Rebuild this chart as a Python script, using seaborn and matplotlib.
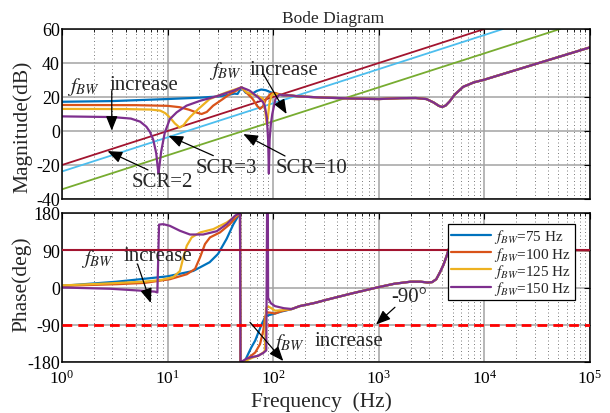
import matplotlib
matplotlib.use("Agg")
import matplotlib.pyplot as plt
from matplotlib.lines import Line2D
from matplotlib.ticker import LogLocator, NullFormatter, FixedLocator
import pandas as pd
import seaborn as sns

# ---------------- data ----------------
bandwidths = ["75 Hz", "100 Hz", "125 Hz", "150 Hz"]
bw_colors = ["#0072BD", "#D95319", "#EDB120", "#7E2F8E"]

# magnitude (dB) of each loop, low/mid-frequency part
mag75_f = [1, 3, 10, 20, 30, 38, 43, 46, 50, 55, 62, 70, 77, 85, 100, 120]
mag75_db = [17.2, 17.6, 18.8, 19.6, 20.3, 21.3, 22.0, 21.8, 25.7, 22.5, 21.6, 23.6, 24.4, 24.0, 22.2, 21.0]

mag100_f = [1, 5, 10, 13, 16, 19, 21, 23.5, 27, 33, 39, 45, 50, 56, 64, 70, 75, 80, 86, 95, 104, 120]
mag100_db = [15.3, 15.2, 14.8, 14.0, 12.5, 10.8, 10.0, 11.2, 14.9, 18.6, 21.8, 23.8, 25.7, 22.5, 18.8, 15.0,
             13.0, 14.5, 19.0, 22.0, 22.4, 21.2]

mag125_f = [1, 4, 7, 8.5, 9.5, 10.5, 11.7, 13.0, 14.2, 15.2, 16.5, 19.6, 25, 36, 50, 56, 64, 72, 80, 83,
            86, 87, 89, 92, 96, 100, 120]
mag125_db = [13.0, 12.9, 12.6, 12.0, 10.5, 8.0, 4.5, 2.0, 3.5, 6.0, 8.5, 13.0, 18.8, 22.7, 25.7, 22.8, 21.5,
             20.5, 19.0, 15.0, 6.0, 4.0, 8.0, 16.0, 20.5, 21.8, 21.2]

mag150_f = [1, 3, 4.5, 5.5, 6.3, 6.8, 7.3, 7.8, 8.05, 8.2, 8.35, 8.7, 9.4, 10.5, 12.2, 15.1, 20.4, 29, 42,
            50, 56, 60, 72, 80, 83, 87, 89.5, 91, 92.5, 95, 98, 105, 115, 125]
mag150_db = [8.6, 8.2, 7.3, 5.5, 2.5, -0.5, -5, -13, -21, -25, -21, -12, -1, 7, 11, 14.9, 17.8, 20.4, 23.7,
             25.7, 24.5, 23.7, 19.8, 17.0, 15.0, 8.0, -5, -25, -5, 4, 10, 18.8, 21.5, 21.0]

# shared high-frequency magnitude
tail_mag_f = [140, 178, 316, 562, 1000, 1600, 2240, 2820, 3300, 3700, 3980, 4300, 4700, 5250, 6300, 7940,
              10000, 100000]
tail_mag_db = [21.0, 20.3, 19.6, 19.1, 18.8, 19.3, 19.4, 18.8, 16.8, 14.8, 14.1, 15.0, 17.5, 21.5, 26.0,
               28.6, 30.2, 49.2]

# grid impedance asymptotes
scr_names = ["SCR=2", "SCR=3", "SCR=10"]
scr_colors = ["#A2142F", "#4DBEEE", "#77AC30"]
scr2_f, scr2_db = [1, 10000], [-20.0, 60.0]
scr3_f, scr3_db = [1, 15000], [-23.8, 60.0]
scr10_f, scr10_db = [1, 52000], [-34.3, 60.0]

# phase (deg), low/mid-frequency part
ph75_f = [1, 3.3, 6, 10, 17.5, 25, 30, 36.3, 42, 48.5, 49, 54, 62, 67.6, 72, 78, 83, 87, 97, 120]
ph75_deg = [4, 14, 21, 27, 40, 61, 81, 118, 153, 180, -180, -177, -145, -128, -110, -88, -74, -68, -65, -58]

ph100_f = [1, 3.3, 6, 10.5, 15.2, 18.2, 20.3, 22.6, 25.2, 31.3, 38.9, 48.5, 49, 54, 61, 67.6, 75, 80.6,
           83.6, 87, 95, 104, 120]
ph100_deg = [4, 8, 11, 20, 32, 45, 73, 105, 121, 133, 153, 180, -180, -177, -166, -157, -137, -104, -72,
             -60, -61, -63, -57]

ph125_f = [1, 2.85, 5.9, 8.6, 11.3, 13.1, 14.1, 15.2, 16.9, 20.3, 27.1, 36.3, 48.5, 49, 54, 63, 72, 80.6,
           83.5, 85.5, 90, 96, 104, 120]
ph125_deg = [5, 10, 14, 18, 25, 40, 73, 101, 121, 133, 141, 157, 180, -180, -178, -170, -165, -157, -152,
             -50, -46, -50, -56, -55]

ph150_f = [1, 2.85, 5.9, 7.6, 8.0, 8.3, 9.1, 10.5, 13.1, 16.3, 21.7, 29.2, 36.3, 43.5, 48.5, 49, 51, 56,
           63, 72, 80.6, 86, 87.5, 89, 89.5, 95, 104, 126]
ph150_deg = [0, -3, -8, -10, -12, 152, 153, 149, 137, 128, 128, 136, 153, 173.5, 180, -180, -178, -172,
             -168, -165, -158, -152, 180, 178, -25, -38, -45, -50]

# shared high-frequency phase
tail_ph_f = [150, 178, 250, 316, 562, 1000, 1400, 2000, 2500, 2900, 3200, 3500, 3800, 4100, 4400, 4600,
             5200, 6300, 8000, 10000, 20000, 100000]
tail_ph_deg = [-52, -45, -37, -30, -14, 1, 9, 14, 14, 12, 13, 20, 37, 55, 77, 93, 108, 110, 104, 98, 92, 90]

phase_refs = [90, -90]

# ---------------- tables ----------------
def frame(f, v, name):
    return pd.DataFrame({"freq": f, "value": v, "series": name})

mag_df = pd.concat([
    frame(mag75_f + tail_mag_f, mag75_db + tail_mag_db, bandwidths[0]),
    frame(mag100_f + tail_mag_f, mag100_db + tail_mag_db, bandwidths[1]),
    frame(mag125_f + tail_mag_f, mag125_db + tail_mag_db, bandwidths[2]),
    frame(mag150_f + tail_mag_f, mag150_db + tail_mag_db, bandwidths[3]),
], ignore_index=True)

ph_df = pd.concat([
    frame(ph75_f + tail_ph_f, ph75_deg + tail_ph_deg, bandwidths[0]),
    frame(ph100_f + tail_ph_f, ph100_deg + tail_ph_deg, bandwidths[1]),
    frame(ph125_f + tail_ph_f, ph125_deg + tail_ph_deg, bandwidths[2]),
    frame(ph150_f + tail_ph_f, ph150_deg + tail_ph_deg, bandwidths[3]),
], ignore_index=True)

scr_df = pd.concat([
    frame(scr2_f, scr2_db, scr_names[0]),
    frame(scr3_f, scr3_db, scr_names[1]),
    frame(scr10_f, scr10_db, scr_names[2]),
], ignore_index=True)

# ---------------- style ----------------
sns.set_style("white")
plt.rcParams["font.family"] = ["Liberation Serif", "DejaVu Serif"]
plt.rcParams["mathtext.fontset"] = "stix"
plt.rcParams["axes.unicode_minus"] = False

fig = plt.figure(figsize=(6.1, 4.14), dpi=100)
W, H = 610.0, 414.0
ax1 = fig.add_axes([62 / W, 1 - 200 / H, 528 / W, 170 / H])
ax2 = fig.add_axes([62 / W, 1 - 363 / H, 528 / W, 149 / H])

LW = 1.6
sns.lineplot(data=scr_df, x="freq", y="value", hue="series", hue_order=scr_names,
             palette=scr_colors, sort=False, estimator=None, legend=False, lw=1.3, ax=ax1)
sns.lineplot(data=mag_df, x="freq", y="value", hue="series", hue_order=bandwidths,
             palette=bw_colors, sort=False, estimator=None, legend=False, lw=LW, ax=ax1)
sns.lineplot(data=ph_df, x="freq", y="value", hue="series", hue_order=bandwidths,
             palette=bw_colors, sort=False, estimator=None, legend=False, lw=LW, ax=ax2)

ax2.axhline(phase_refs[0], color="#A2142F", lw=1.5, zorder=3)
ax2.axhline(phase_refs[1], color="#FF0000", lw=2.0, ls=(0, (3.5, 2.2)), zorder=3)

for ax in (ax1, ax2):
    ax.set_xscale("log")
    ax.set_xlim(1, 1e5)
    ax.xaxis.set_major_locator(LogLocator(base=10, numticks=10))
    ax.xaxis.set_minor_locator(LogLocator(base=10, subs=range(2, 10), numticks=100))
    ax.xaxis.set_minor_formatter(NullFormatter())
    ax.grid(True, which="major", color="#a3a3a3", lw=1.1, ls="-")
    ax.grid(True, which="minor", axis="x", color="#7a7a7a", lw=0.7, ls=(0, (1, 2.6)))
    ax.tick_params(which="both", direction="in", top=True, right=True, colors="k")
    ax.tick_params(which="major", length=4, width=0.8)
    ax.tick_params(which="minor", length=2.2, width=0.6)
    ax.tick_params(axis="y", labelsize=13, pad=1.5)
    ax.tick_params(axis="x", labelsize=12.5, pad=5)
    for s in ax.spines.values():
        s.set_color("k")
        s.set_linewidth(1.1)
    ax.set_xlabel("")
    ax.set_ylabel("")

ax1.set_ylim(-40, 60)
ax1.yaxis.set_major_locator(FixedLocator([-40, -20, 0, 20, 40, 60]))
ax1.tick_params(axis="x", labelbottom=False)
ax2.set_ylim(-180, 180)
ax2.yaxis.set_major_locator(FixedLocator([-180, -90, 0, 90, 180]))

ax1.set_title("Bode Diagram", fontsize=12.5, pad=5, x=0.513)
ax1.set_ylabel("Magnitude(dB)", fontsize=15.5)
ax1.yaxis.set_label_coords(-0.056, 0.431)
ax2.set_ylabel("Phase(deg)", fontsize=15.5)
ax2.yaxis.set_label_coords(-0.058, 0.53)
ax2.set_xlabel("Frequency  (Hz)", fontsize=15.5)
ax2.xaxis.set_label_coords(0.491, -0.195)

# legend
handles = [Line2D([], [], color=c, lw=LW) for c in bw_colors]
labels = [r"$f_{BW}$=" + b for b in bandwidths]
leg = ax2.legend(handles, labels, loc="upper left",
                 bbox_to_anchor=((448 - 62) / 528, (363 - 225) / 149), borderaxespad=0,
                 fontsize=11, frameon=True, fancybox=False, edgecolor="k", framealpha=1,
                 handlelength=2.6, handletextpad=0.2, labelspacing=-0.05, borderpad=0.22)
leg.get_frame().set_linewidth(0.9)
leg.set_zorder(5)

# annotations
AFS = 15
arrow = dict(arrowstyle="-|>,head_length=0.55,head_width=0.22", color="k", lw=0.9,
             mutation_scale=16, shrinkA=0, shrinkB=0)


def note(ax, tip, tail):
    ax.annotate("", xy=tip, xytext=tail, arrowprops=arrow, zorder=6)


def label(ax, x, y, s, **kw):
    ax.text(x, y, s, fontsize=AFS, ha="center", va="center", zorder=6, **kw)


label(ax1, 1.61, 26.2, r"$f_{BW}$")
label(ax1, 5.97, 27.6, "increase")
note(ax1, (2.96, 0.2), (2.96, 23.7))

label(ax1, 35.0, 35.6, r"$f_{BW}$")
label(ax1, 126.5, 36.2, "increase")
note(ax1, (134, 10.0), (80.6, 33.5))

label(ax1, 8.95, -29.7, "SCR=2")
note(ax1, (2.7, -11.8), (6.52, -22.9))
label(ax1, 35.7, -21.5, "SCR=3")
note(ax1, (10.2, -2.8), (27.1, -14.5))
label(ax1, 231.6, -21.2, "SCR=10")
note(ax1, (52.1, -1.8), (129.4, -14.7))

label(ax2, 2.19, 71.3, r"$f_{BW}$")
label(ax2, 8.11, 77.3, "increase")
note(ax2, (6.93, -37.4), (5.19, 56.8))

label(ax2, 141, -130.5, r"$f_{BW}$")
label(ax2, 522, -129.2, "increase")
note(ax2, (124.6, -177.6), (60.3, -84.0))

label(ax2, 1932, -21.7, "-90°")
note(ax2, (940, -89.4), (1422, -47.8))

fig.savefig("out.png", dpi=100)
